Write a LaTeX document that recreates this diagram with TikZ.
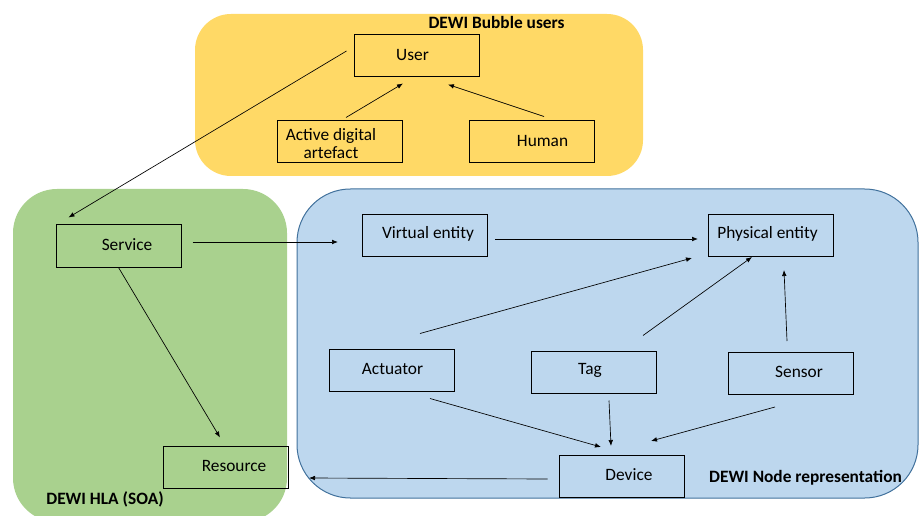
\documentclass[tikz,border=0pt]{standalone}
\usepackage{fontspec}
\setmainfont{Carlito}
\usetikzlibrary{arrows.meta}
\definecolor{ybg}{HTML}{FFD966}
\definecolor{gbg}{HTML}{A9D18E}
\definecolor{bbg}{HTML}{BDD7EE}
\definecolor{bedge}{HTML}{41719C}
\tikzset{
  box/.style={draw=black, line width=0.75pt, minimum width=93.75pt, minimum height=31.5pt,
    inner sep=1pt},
  txt/.style={font=\fontsize{13}{14}\selectfont, align=center, inner sep=0pt, yshift=1.1pt},
  arr/.style={line width=0.5pt, -{Latex[length=4.5pt,width=3.5pt]}},
  area/.style={font=\bfseries\fontsize{13}{14}\selectfont}
}
\begin{document}
\begin{tikzpicture}[x=0.75pt,y=-0.75pt]
\useasboundingbox (0,0) rectangle (919,516);
\begin{scope}
\clip (0,0) rectangle (919,516);
\fill[ybg, rounded corners=27] (195,14) rectangle (643,176);
\fill[gbg, rounded corners=33] (13,189) rectangle (287,522);
\filldraw[fill=bbg, draw=bedge, line width=0.75pt, rounded corners=40] (297,189) rectangle (918,498);
\end{scope}
\node[area] (lbub) at (496.5,22) {DEWI Bubble users};
\node[area] (lhla) at (105,499) {DEWI HLA (SOA)};
\node[area] (lnode) at (805.5,478) {DEWI Node representation};

\node[box, label={[txt, xshift=-3pt]center:User}] (user) at (416.5,56) {};
\node[box, label={[txt, xshift=-6.4pt, yshift=-2.2pt]center:Active digital\\artefact}] (active) at (339.5,142) {};
\node[box, label={[txt, xshift=7.9pt]center:Human}] (human) at (532,142) {};
\node[box, label={[txt, xshift=6.4pt]center:Service}] (service) at (118.5,246) {};
\node[box, label={[txt, xshift=6pt]center:Resource}] (resource) at (226,467) {};
\node[box, label={[txt, xshift=2.25pt]center:Virtual entity}] (virtual) at (425,235.5) {};
\node[box, label={[txt, xshift=-2.6pt]center:Physical entity}] (physical) at (771,235.5) {};
\node[box, label={[txt, xshift=0.75pt]center:Actuator}] (actuator) at (391.5,370) {};
\node[box, label={[txt, xshift=-3pt]center:Tag}] (tag) at (594,372) {};
\node[box, label={[txt, xshift=6.4pt]center:Sensor}] (sensor) at (790.5,373.5) {};
\node[box, label={[txt, xshift=5.6pt]center:Device}] (device) at (621.5,476.5) {};

\draw[arr] ([shift={(-7,-5)}]user.west) -- ([shift={(13,-7)}]service.north west);
\draw[arr] ([shift={(6.5,-3)}]active.north) -- ([shift={(-13.5,6)}]user.south);
\draw[arr] ([shift={(12,-4)}]human.north) -- ([shift={(31.5,7)}]user.south);
\draw[arr] (service.south) -- ([shift={(-6,-8)}]resource.north);
\draw[arr] ([shift={(11,-4)}]service.east) -- ([shift={(-24,6.5)}]virtual.west);
\draw[arr] ([shift={(7,3.5)}]virtual.east) -- ([shift={(-10,3.5)}]physical.west);
\draw[arr] ([shift={(28.5,-15)}]actuator.north) -- ([shift={(-16,1)}]physical.south west);
\draw[arr] ([shift={(49,-15)}]tag.north) -- ([shift={(-19,0)}]physical.south);
\draw[arr] ([shift={(-3.5,-11)}]sensor.north) -- ([shift={(13,13)}]physical.south);
\draw[arr] ([shift={(38.5,7)}]actuator.south) -- ([shift={(-20.5,-8)}]device.north);
\draw[arr] ([shift={(15,7)}]tag.south) -- ([shift={(-10.5,-9)}]device.north);
\draw[arr] ([shift={(-15.5,12)}]sensor.south) -- ([shift={(29.5,-14)}]device.north);
\draw[arr] ([shift={(-11,2.5)}]device.west) -- ([shift={(20,11)}]resource.east);
\end{tikzpicture}
\end{document}
